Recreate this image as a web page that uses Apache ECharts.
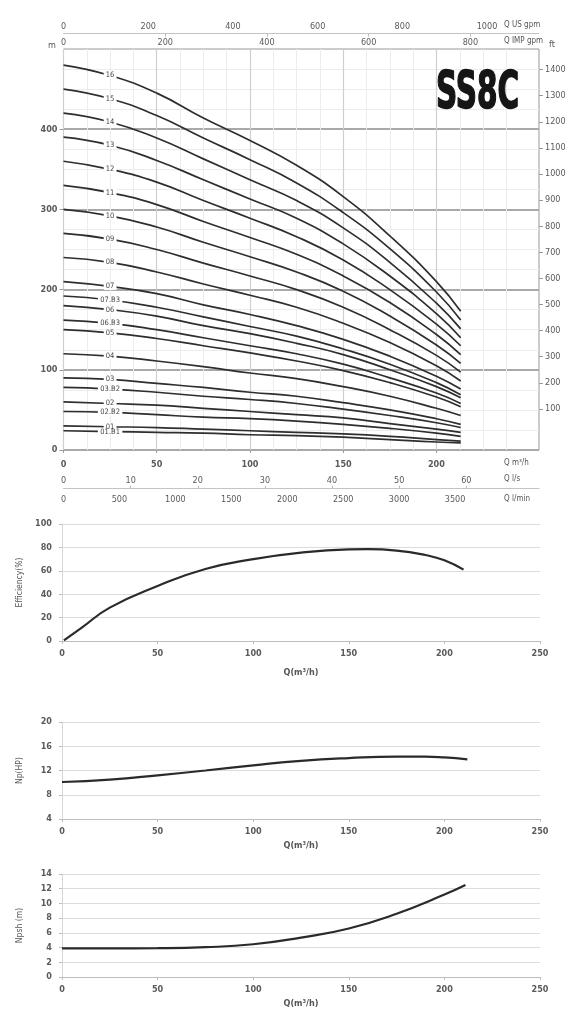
<!DOCTYPE html>
<html>
<head>
<meta charset="utf-8">
<script src="https://cdn.jsdelivr.net/npm/echarts@6/dist/echarts.min.js"></script>
<style>
  html, body { margin: 0; padding: 0; background: #fff; }
  #chart { width: 580px; height: 1024px; }
</style>
</head>
<body>
<div id="chart"></div>
<script>
// flow points (m3/h) for the head curves
var flowQ = [0, 25, 50, 75, 100, 125, 150, 175, 200, 213];

// head curves (m), one per pump model
var h16   = [480, 467, 445, 414, 386, 355, 316, 267, 210, 173];
var h15   = [450, 438, 417, 389, 362, 333, 296, 251, 197, 162];
var h14   = [420, 409, 389, 363, 337, 311, 277, 234, 183, 151];
var h13   = [390, 380, 361, 337, 313, 289, 257, 217, 170, 140];
var h12   = [360, 350, 334, 311, 289, 266, 237, 200, 157, 130];
var h11   = [330, 321, 306, 285, 265, 244, 217, 184, 144, 119];
var h10   = [300, 292, 278, 259, 241, 222, 198, 167, 131, 108];
var h09   = [270, 263, 250, 233, 217, 200, 178, 150, 118, 97];
var h08   = [240, 234, 222, 207, 193, 178, 158, 134, 105, 86];
var h07   = [210, 204, 195, 181, 169, 155, 138, 117, 92, 76];
var h07B3 = [192, 187, 178, 166, 154, 142, 126, 107, 84, 69];
var h06   = [180, 175, 167, 155, 145, 133, 119, 100, 79, 65];
var h06B3 = [162, 158, 150, 140, 130, 120, 107, 90, 71, 58];
var h05   = [150, 146, 139, 130, 121, 111, 99, 84, 66, 54];
var h04   = [120, 117, 111, 104, 96, 89, 79, 67, 52, 43];
var h03   = [90, 88, 83, 78, 72, 67, 59, 50, 39, 32];
var h03B2 = [78, 76, 72, 67, 63, 58, 51, 43, 34, 28];
var h02   = [60, 58, 56, 52, 48, 44, 40, 33, 26, 22];
var h02B2 = [48, 47, 44, 41, 39, 36, 32, 27, 21, 17];
var h01   = [30, 29, 28, 26, 24, 22, 20, 17, 13, 11];
var h01B1 = [24, 23, 22, 21, 19, 18, 16, 13, 10, 9];

var curveNames = ['16', '15', '14', '13', '12', '11', '10', '09', '08', '07', '07.B3',
                  '06', '06.B3', '05', '04', '03', '03.B2', '02', '02.B2', '01', '01.B1'];
var curveHeads = [h16, h15, h14, h13, h12, h11, h10, h09, h08, h07, h07B3,
                  h06, h06B3, h05, h04, h03, h03B2, h02, h02B2, h01, h01B1];

// efficiency
var effQ   = [1, 10, 25, 50, 75, 100, 125, 150, 160, 175, 190, 200, 210];
var effVal = [0.5, 11, 28.5, 47, 61.5, 70, 75.6, 78.3, 78.5, 77.3, 73.5, 69, 61];

// power
var powQ   = [0, 25, 50, 75, 100, 125, 150, 175, 190, 200, 212];
var powVal = [10.1, 10.5, 11.2, 12.0, 12.85, 13.6, 14.05, 14.28, 14.28, 14.15, 13.85];

// npsh
var npshQ   = [0, 25, 50, 75, 100, 125, 150, 175, 200, 211];
var npshVal = [3.9, 3.9, 3.92, 4.05, 4.45, 5.35, 6.6, 8.6, 11.2, 12.5];

// tick labels
var qTicks      = [0, 50, 100, 150, 200];
var lpsTicks    = [0, 10, 20, 30, 40, 50, 60];
var lpmTicks    = [0, 500, 1000, 1500, 2000, 2500, 3000, 3500];
var usGpmTicks  = [0, 200, 400, 600, 800, 1000];
var impGpmTicks = [0, 200, 400, 600, 800];
var mTicks      = [0, 100, 200, 300, 400];
var ftTicks     = [100, 200, 300, 400, 500, 600, 700, 800, 900, 1000, 1100, 1200, 1300, 1400];

var FONT = '"Liberation Sans Narrow", "DejaVu Sans Condensed", sans-serif';
var plainNum = function(v) { return String(v); };
var labelStyle = { fontFamily: FONT, fontSize: 9, fontWeight: 'bold', color: '#5a5a5a', formatter: plainNum };

function pairs(xs, ys) {
	var out = [];
	for (var i = 0; i < xs.length; i++) {
		out.push([xs[i], ys[i]]);
	}
	return out;
}

var myChart = echarts.init(document.getElementById('chart'), null, { renderer: 'canvas' });

var series = [];
for (var i = 0; i < curveNames.length; i++) {
	var name = curveNames[i];
	series.push({
		name: name,
		type: 'line',
		xAxisIndex: 0,
		yAxisIndex: 0,
		data: pairs(flowQ, curveHeads[i]),
		smooth: true,
		showSymbol: false,
		silent: true,
		lineStyle: { color: '#2e2e2e', width: 1.7 },
		markPoint: {
			symbol: 'rect',
			symbolSize: [name.length * 3.9 + 5, 7],
			silent: true,
			itemStyle: { color: '#fff' },
			label: {
				show: true,
				position: 'inside',
				formatter: name,
				fontFamily: FONT,
				fontSize: 7.5,
				color: '#444'
			},
			data: [{ coord: [flowQ[1], curveHeads[i][1]] }]
		}
	});
}

series.push({
	type: 'line', xAxisIndex: 5, yAxisIndex: 2,
	data: pairs(effQ, effVal), smooth: true, showSymbol: false, silent: true,
	lineStyle: { color: '#2a2a2a', width: 2.2 }
});
series.push({
	type: 'line', xAxisIndex: 6, yAxisIndex: 3,
	data: pairs(powQ, powVal), smooth: true, showSymbol: false, silent: true,
	lineStyle: { color: '#2a2a2a', width: 2.2 }
});
series.push({
	type: 'line', xAxisIndex: 7, yAxisIndex: 4,
	data: pairs(npshQ, npshVal), smooth: true, showSymbol: false, silent: true,
	lineStyle: { color: '#2a2a2a', width: 2.2 }
});

function subX(grid, gap) {
	return {
		type: 'value', gridIndex: grid, min: 0, max: 250, interval: 50,
		name: 'Q(m³/h)', nameLocation: 'middle', nameGap: gap,
		nameTextStyle: { fontFamily: FONT, fontSize: 9, fontWeight: 'bold', color: '#555' },
		axisLine: { show: true, onZero: false, lineStyle: { color: '#bdbdbd' } },
		axisTick: { show: true, length: 3, lineStyle: { color: '#bdbdbd' } },
		axisLabel: Object.assign({ margin: 8 }, labelStyle),
		splitLine: { show: false }
	};
}

function subY(grid, min, max, step, title) {
	return {
		type: 'value', gridIndex: grid, min: min, max: max, interval: step,
		name: title, nameLocation: 'middle', nameGap: 38, nameRotate: 90,
		nameTextStyle: { fontFamily: FONT, fontSize: 8.5, color: '#555' },
		axisLine: { show: true, onZero: false, lineStyle: { color: '#d6d6d6' } },
		axisTick: { show: true, length: 3, lineStyle: { color: '#bdbdbd' } },
		axisLabel: Object.assign({ margin: 10 }, labelStyle),
		splitLine: { show: true, lineStyle: { color: '#dcdcdc', width: 1 } }
	};
}

var option = {
	animation: false,
	backgroundColor: '#fff',
	grid: [
		{ left: 63.5, top: 49, width: 475.5, height: 401, show: true, borderColor: '#999', borderWidth: 1 },
		{ left: 62, top: 524, width: 478, height: 117 },
		{ left: 62, top: 722, width: 478, height: 97 },
		{ left: 62, top: 874, width: 478, height: 103 }
	],
	xAxis: [
		// 0: Q m3/h
		{
			type: 'value', gridIndex: 0, min: 0, max: 255, interval: 50,
			axisLine: { show: false, onZero: false },
			axisTick: { show: true, length: 3, customValues: qTicks, lineStyle: { color: '#999' } },
			axisLabel: Object.assign({ margin: 10, customValues: qTicks }, labelStyle),
			splitLine: { show: true, lineStyle: { color: '#cfcfcf', width: 1.2 } },
			minorTick: { show: false, splitNumber: 4 },
			minorSplitLine: { show: true, lineStyle: { color: '#ececec', width: 1 } }
		},
		// 1: Q l/s
		{
			type: 'value', gridIndex: 0, position: 'bottom', offset: 38.7, min: 0, max: 255 / 3.6,
			axisLine: { show: false, onZero: false },
			axisTick: { show: true, inside: true, length: 3, customValues: [10, 20, 30, 40, 50, 60], lineStyle: { color: '#bbb' } },
			axisLabel: Object.assign({ inside: true, margin: 4, customValues: lpsTicks }, labelStyle, { fontWeight: 'normal' }),
			splitLine: { show: false }
		},
		// 2: Q l/min
		{
			type: 'value', gridIndex: 0, position: 'bottom', offset: 38.7, min: 0, max: 255 * 1000 / 60,
			axisLine: { show: true, onZero: false, lineStyle: { color: '#c4c4c4' } },
			axisTick: { show: false },
			axisLabel: Object.assign({ margin: 6, customValues: lpmTicks }, labelStyle, { fontWeight: 'normal' }),
			splitLine: { show: false }
		},
		// 3: Q US gpm
		{
			type: 'value', gridIndex: 0, position: 'top', offset: 15.3, min: 0, max: 255 * 4.4029,
			axisLine: { show: false, onZero: false },
			axisTick: { show: false },
			axisLabel: Object.assign({ margin: 3, customValues: usGpmTicks }, labelStyle, { fontWeight: 'normal' }),
			splitLine: { show: false }
		},
		// 4: Q IMP gpm
		{
			type: 'value', gridIndex: 0, position: 'top', offset: 15.3, min: 0, max: 255 * 3.6662,
			axisLine: { show: true, onZero: false, lineStyle: { color: '#c4c4c4' } },
			axisTick: { show: true, inside: true, length: 3, customValues: [200, 400, 600, 800], lineStyle: { color: '#bbb' } },
			axisLabel: Object.assign({ inside: true, margin: 4, customValues: impGpmTicks }, labelStyle, { fontWeight: 'normal' }),
			splitLine: { show: false }
		},
		subX(1, 27),
		subX(2, 22),
		subX(3, 22)
	],
	yAxis: [
		// 0: m
		{
			type: 'value', gridIndex: 0, min: 0, max: 500, interval: 100,
			axisLine: { show: false, onZero: false },
			axisTick: { show: true, length: 4, customValues: mTicks, lineStyle: { color: '#999' } },
			axisLabel: Object.assign({ margin: 6, customValues: mTicks }, labelStyle),
			splitLine: { show: true, lineStyle: { color: '#a9a9a9', width: 1.8 } },
			minorTick: { show: false, splitNumber: 4 },
			minorSplitLine: { show: true, lineStyle: { color: '#ececec', width: 1 } }
		},
		// 1: ft
		{
			type: 'value', gridIndex: 0, position: 'right', min: -57.5, max: 1479,
			axisLine: { show: false, onZero: false },
			axisTick: { show: true, length: 4, customValues: ftTicks, lineStyle: { color: '#999' } },
			axisLabel: Object.assign({ margin: 6, customValues: ftTicks }, labelStyle, { fontWeight: 'normal' }),
			splitLine: { show: false }
		},
		subY(1, 0, 100, 20, 'Efficiency(%)'),
		subY(2, 4, 20, 4, 'Np(HP)'),
		subY(3, 0, 14, 2, 'Npsh (m)')
	],
	graphic: [
		{ type: 'text', left: 48, top: 41, style: { text: 'm', font: '9px ' + FONT, fill: '#555' } },
		{ type: 'text', left: 549, top: 40, style: { text: 'ft', font: '9px ' + FONT, fill: '#555' } },
		{ type: 'text', left: 504, top: 21, style: { text: 'Q US gpm', font: '8px ' + FONT, fill: '#555' } },
		{ type: 'text', left: 504, top: 37, style: { text: 'Q IMP gpm', font: '8px ' + FONT, fill: '#555' } },
		{ type: 'text', left: 504, top: 459, style: { text: 'Q m³/h', font: '8px ' + FONT, fill: '#555' } },
		{ type: 'text', left: 504, top: 475, style: { text: 'Q l/s', font: '8px ' + FONT, fill: '#555' } },
		{ type: 'text', left: 504, top: 495, style: { text: 'Q l/min', font: '8px ' + FONT, fill: '#555' } },
		{
			type: 'text', x: 436, y: 68, scaleX: 0.63, z: 10,
			style: {
				text: 'SS8C', font: 'bold 52px ' + FONT, fill: '#151515', verticalAlign: 'top',
				stroke: '#151515', lineWidth: 1.6
			}
		}
	],
	series: series
};

myChart.setOption(option);
</script>
</body>
</html>
